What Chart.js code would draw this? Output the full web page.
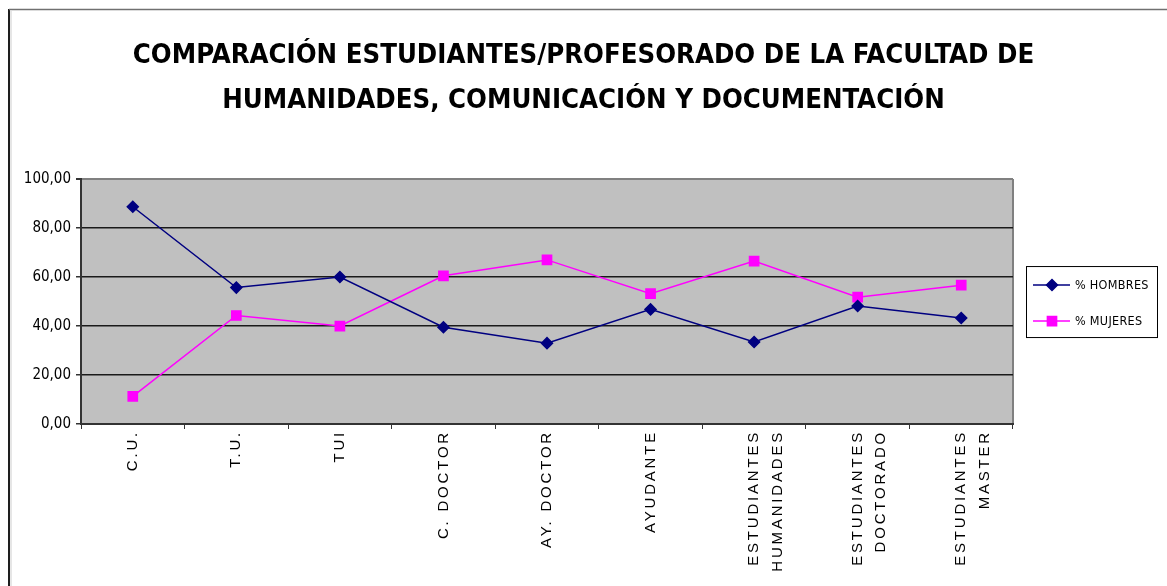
<!DOCTYPE html>
<html lang="es">
<head>
<meta charset="utf-8">
<title>Comparación estudiantes/profesorado</title>
<script src="https://cdn.jsdelivr.net/npm/chart.js@4.4.1/dist/chart.umd.min.js"></script>
<style>
    html, body { margin: 0; padding: 0; background: #fff; overflow: hidden; }
    #wrap { position: relative; width: 1167px; height: 586px; }
</style>
</head>
<body>
<div id="wrap"><canvas id="grafico"></canvas></div>
<script>
// Categorías del eje X (las de dos líneas van como array)
const categorias = [
    'C.U.', 'T.U.', 'TUI', 'C. DOCTOR', 'AY. DOCTOR', 'AYUDANTE',
    ['ESTUDIANTES', 'HUMANIDADES'],
    ['ESTUDIANTES', 'DOCTORADO'],
    ['ESTUDIANTES', 'MASTER']
];

// Porcentajes por colectivo
const hombres = [88.7, 55.7, 60.0, 39.5, 33.0, 46.8, 33.5, 48.2, 43.3];
const mujeres = [11.3, 44.3, 40.0, 60.5, 67.0, 53.2, 66.5, 51.8, 56.7];

const etiquetasSeries = ['% HOMBRES', '% MUJERES'];

const tituloLineas = [
    'COMPARACIÓN ESTUDIANTES/PROFESORADO DE LA FACULTAD DE',
    'HUMANIDADES, COMUNICACIÓN Y DOCUMENTACIÓN'
];

// Escala Y: 0 a 100 de 20 en 20
const yMin = 0, yMax = 100, yPaso = 20;

const FUENTE_ESTRECHA = "'DejaVu Sans Condensed', 'Liberation Sans', Arial, sans-serif";
const FUENTE = "'Liberation Sans', Arial, sans-serif";

// =====================================================================
// Fondo blanco, marco exterior y área de trazado gris
// =====================================================================
const fondoGrafico = {
    id: 'fondoGrafico',
    beforeDraw(chart) {
        const { ctx, chartArea: a } = chart;
        ctx.letterSpacing = '0px';
        ctx.save();
        ctx.fillStyle = '#ffffff';
        ctx.fillRect(0, 0, chart.width, chart.height);

        // marco del objeto gráfico (arriba y a la izquierda)
        ctx.fillStyle = '#e6e6e6';
        ctx.fillRect(10, 11, 2, chart.height);
        ctx.strokeStyle = '#1e1e1e';
        ctx.lineWidth = 2;
        ctx.beginPath();
        ctx.moveTo(9, chart.height);
        ctx.lineTo(9, 9);
        ctx.stroke();
        ctx.strokeStyle = '#707070';
        ctx.lineWidth = 1.5;
        ctx.beginPath();
        ctx.moveTo(9, 9.5);
        ctx.lineTo(chart.width, 9.5);
        ctx.stroke();

        ctx.fillStyle = '#c0c0c0';
        ctx.fillRect(a.left, a.top, a.width, a.height);

        // borde derecho del área de trazado
        ctx.strokeStyle = '#808080';
        ctx.lineWidth = 2;
        ctx.beginPath();
        ctx.moveTo(a.right, a.top);
        ctx.lineTo(a.right, a.bottom);
        ctx.stroke();
        ctx.restore();
    },
    afterDatasetsDraw(chart) {
        // las etiquetas del eje X (ticks.z: 1) se pintan espaciadas
        chart.ctx.letterSpacing = '2.8px';
    }
};

// =====================================================================
// Leyenda con recuadro: línea + marcador + texto
// =====================================================================
const leyendaRecuadro = {
    id: 'leyendaRecuadro',
    afterDraw(chart) {
        const { ctx, chartArea: a } = chart;
        const ancho = 131, alto = 71;
        const x0 = a.right + 13;
        const yc = (a.top + a.bottom) / 2;
        const y0 = yc - alto / 2;
        const filas = [yc - 16.5, yc + 19.5];

        ctx.save();
        ctx.letterSpacing = '0.3px';
        ctx.fillStyle = '#ffffff';
        ctx.fillRect(x0, y0, ancho, alto);
        ctx.strokeStyle = '#000000';
        ctx.lineWidth = 1;
        ctx.strokeRect(x0 + 0.5, y0 + 0.5, ancho, alto);

        chart.data.datasets.forEach((ds, i) => {
            const y = filas[i];
            ctx.strokeStyle = ds.borderColor;
            ctx.lineWidth = ds.borderWidth;
            ctx.beginPath();
            ctx.moveTo(x0 + 7, y);
            ctx.lineTo(x0 + 44, y);
            ctx.stroke();
            ctx.fillStyle = ds.pointBackgroundColor;
            ctx.strokeStyle = ds.pointBorderColor;
            Chart.helpers.drawPoint(ctx, {
                pointStyle: ds.pointStyle,
                radius: ds.pointRadius,
                borderWidth: 1,
                rotation: 0
            }, x0 + 26, y);
            ctx.fillStyle = '#000000';
            ctx.font = '12.5px ' + FUENTE_ESTRECHA;
            ctx.textBaseline = 'middle';
            ctx.textAlign = 'left';
            ctx.fillText(ds.label, x0 + 49, y + 1);
        });
        ctx.restore();
    }
};

const ctx = document.getElementById('grafico').getContext('2d');
new Chart(ctx, {
    type: 'line',
    data: {
        labels: categorias,
        datasets: [
            {
                label: etiquetasSeries[0],
                data: hombres,
                borderColor: '#000080',
                backgroundColor: '#000080',
                borderWidth: 1.5,
                pointStyle: 'rectRot',
                pointRadius: 5.5,
                pointBackgroundColor: '#000080',
                pointBorderColor: '#000080',
                tension: 0
            },
            {
                label: etiquetasSeries[1],
                data: mujeres,
                borderColor: '#ff00ff',
                backgroundColor: '#ff00ff',
                borderWidth: 1.5,
                pointStyle: 'rect',
                pointRadius: 6.5,
                pointBackgroundColor: '#ff00ff',
                pointBorderColor: '#ff00ff',
                tension: 0
            }
        ]
    },
    options: {
        responsive: true,
        maintainAspectRatio: false,
        animation: false,
        layout: { padding: 0 },
        plugins: {
            legend: { display: false },
            tooltip: { enabled: false },
            title: {
                display: true,
                text: tituloLineas,
                color: '#000000',
                font: { family: FUENTE_ESTRECHA, size: 27.3, weight: 'bold', lineHeight: 1.65 },
                padding: { top: 33, bottom: 56 }
            }
        },
        scales: {
            x: {
                offset: true,
                grid: {
                    offset: true,
                    drawOnChartArea: false,
                    drawTicks: true,
                    tickLength: 5,
                    tickColor: '#333333'
                },
                border: { color: '#333333', width: 2 },
                ticks: {
                    z: 1,
                    autoSkip: false,
                    maxRotation: 90,
                    minRotation: 90,
                    padding: 1,
                    labelOffset: 0,
                    color: '#000000',
                    font: { family: FUENTE, size: 15, lineHeight: 1.55 }
                },
                afterFit(scale) { scale.height = 162; }
            },
            y: {
                min: yMin,
                max: yMax,
                grid: {
                    color: c => (c.tick && c.tick.value === yMax) ? '#808080' : '#1a1a1a',
                    lineWidth: c => (c.tick && c.tick.value === yMax) ? 2 : 1.5,
                    tickLength: 5,
                    tickColor: '#333333'
                },
                border: { color: '#333333', width: 2 },
                ticks: {
                    stepSize: yPaso,
                    padding: 5,
                    color: '#000000',
                    font: { family: FUENTE_ESTRECHA, size: 15 },
                    callback: v => v.toFixed(2).replace('.', ',')
                },
                afterFit(scale) { scale.width = 81; }
            },
            // eje vacío a la derecha: deja sitio para la leyenda
            hueco: {
                position: 'right',
                display: true,
                grid: { display: false },
                border: { display: false },
                ticks: { display: false },
                afterFit(scale) { scale.width = 154; }
            }
        }
    },
    plugins: [fondoGrafico, leyendaRecuadro]
});
</script>
</body>
</html>
